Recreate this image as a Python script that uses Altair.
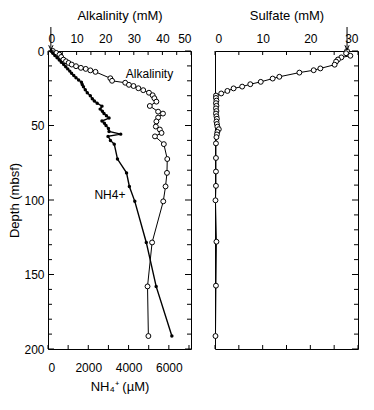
import altair as alt
import pandas as pd

# ---- data ----
alk_depth = [0, 1.3, 2.5, 4.0, 5.8, 6.9, 8.0, 9.1, 10.2, 11.3, 12.0, 13.0, 14.0, 18.3, 20.0,
             21.3, 22.7, 23.5, 25.0, 26.3, 28.0, 29.7, 31.7, 34.0, 36.9, 40.7, 42.0, 44.7,
             47.3, 50.7, 52.7, 55.0, 57.3, 62.5, 72.5, 81.8, 90.9, 100.9, 128.5, 158.0, 191.3]
alk_val = [1.7, 2.9, 4.0, 4.6, 5.4, 6.3, 7.2, 8.3, 9.8, 11.5, 13.2, 14.8, 16.6, 21.8, 22.4,
           27.0, 28.3, 29.9, 31.6, 33.3, 35.3, 36.6, 37.2, 37.9, 35.6, 38.5, 40.2, 38.5,
           37.9, 37.7, 39.1, 39.7, 37.4, 40.5, 41.7, 41.6, 41.1, 40.3, 36.4, 34.8, 35.1]

nh4_depth = [0, 1.5, 3, 4.5, 6, 7.5, 9, 10.5, 12, 13.5, 15, 16.5, 18, 19.5, 21, 22.5, 24, 26, 28,
             30, 32, 33.5, 35, 37, 39, 40.5, 42, 43.5, 45, 47, 48.5, 50, 52, 54, 55.8, 57.3, 60,
             62.5, 72.5, 81.8, 90.9, 100.9, 128.5, 158.0, 191.3]
nh4_val = [150, 240, 340, 450, 560, 660, 780, 880, 980, 1080, 1170, 1280, 1390, 1520, 1660, 1700,
           1760, 1850, 1950, 2100, 2200, 2300, 2440, 2680, 2590, 2700, 2780, 2900, 3030, 2680,
           2800, 2880, 3000, 3030, 3610, 2980, 3100, 3290, 3450, 3900, 4040, 4310, 4880, 5370, 6150]

so4_depth = [0, 1.5, 3.2, 4.3, 5.7, 7.1, 9.2, 11.7, 12.9, 14.5, 17.3, 18.5, 20.7, 22.3, 23.9,
             25.1, 26.8, 28.5, 29.9, 31.5, 33.3, 35.0, 36.8, 38.5, 40.3, 42.0, 43.8, 45.5, 47.3,
             49.0, 50.8, 52.5, 54.3, 56.0, 57.8, 62.0, 71.8, 80.9, 90.5, 100.2, 128.0, 157.5, 191.3]
so4_val = [27.7, 27.5, 28.4, 26.5, 25.8, 25.4, 25.1, 22.1, 20.7, 17.7, 13.5, 12.1, 9.6, 7.4, 5.7,
           3.9, 2.6, 1.3, 0.2, 0.2, 0.3, 0.2, 0.3, 0.2, 0.3, 0.2, 0.3, 0.4, 0.3, 0.4, 0.5, 0.8,
           0.5, 0.4, 0.3, 0.2, 0.2, 0.2, 0.2, 0.1, 0.3, 0.2, 0.1]

depth_major = [0, 50, 100, 150, 200]
depth_minor = [d for d in range(0, 201, 10) if d % 50 != 0]
alk_ticks = list(range(0, 51, 5))
nh4_ticks = list(range(0, 7001, 1000))
so4_ticks = list(range(0, 31, 5))
arrow_alk = [1.0]
arrow_so4 = [27.7]

FONT = "Liberation Sans"
W, H = 143, 298

alk_df = pd.DataFrame({"depth": alk_depth, "v": alk_val})
nh4_df = pd.DataFrame({"depth": nh4_depth, "v": nh4_val})
so4_df = pd.DataFrame({"depth": so4_depth, "v": so4_val})

depth_scale = alt.Scale(domain=[0, 200], reverse=True, nice=False, zero=False)
alk_scale = alt.Scale(domain=[0, 50], nice=False)
nh4_scale = alt.Scale(domain=[0, 7100], nice=False)
so4_scale = alt.Scale(domain=[0, 30], nice=False)

depth_axis = alt.Axis(title="Depth (mbsf)", values=[0, 50, 100, 150, 200], ticks=False,
                      domain=False, grid=False, labelPadding=4, titlePadding=2, format="d")
so4_axis = alt.Axis(orient="top", title="Sulfate (mM)", values=[0, 10, 20, 30], ticks=False,
                    domain=False, grid=False, labelPadding=6, titlePadding=10, format="d")

open_pt = alt.OverlayMarkDef(shape="circle", filled=True, fill="white", stroke="black",
                             strokeWidth=1, size=24)
solid_pt = alt.OverlayMarkDef(shape="circle", filled=True, color="black", size=12)


def inner_ticks(values, where, length, xscale=None, xaxis=None, yaxis=None):
    df = pd.DataFrame({"tk": values})
    if where in ("left", "right"):
        xpos = length / 2 if where == "left" else W - length / 2
        return alt.Chart(df).mark_tick(orient="horizontal", color="black", size=length,
                                       thickness=1, opacity=1).encode(
            y=alt.Y("tk:Q", scale=depth_scale, axis=yaxis), x=alt.value(xpos))
    ypos = length / 2 if where == "top" else H - length / 2
    return alt.Chart(df).mark_tick(orient="vertical", color="black", size=length,
                                   thickness=1, opacity=1).encode(
        x=alt.X("tk:Q", scale=xscale, axis=xaxis), y=alt.value(ypos))


def arrow(values, scale, xaxis=None):
    df = pd.DataFrame({"a": values})
    shaft = alt.Chart(df).mark_rule(color="black", strokeWidth=1).encode(
        x=alt.X("a:Q", scale=scale, axis=xaxis), y=alt.value(-24), y2=alt.value(-1))
    head = alt.Chart(df).mark_point(shape="M-0.45,-1L0,0L0.45,-1", filled=False,
                                    color="black", size=90, strokeWidth=1, opacity=1).encode(
        x=alt.X("a:Q", scale=scale, axis=xaxis), y=alt.value(-1))
    return [shaft, head]


# ---- left panel ----
alk_line = alt.Chart(alk_df).mark_line(color="black", strokeWidth=1, point=open_pt).encode(
    x=alt.X("v:Q", scale=alk_scale,
            axis=alt.Axis(orient="top", title="Alkalinity (mM)", values=[0, 10, 20, 30, 40, 50],
                          ticks=False, domain=False, grid=False, labelPadding=6, titlePadding=10,
                          format="d")),
    y=alt.Y("depth:Q", scale=depth_scale, axis=depth_axis),
    order=alt.Order("depth:Q"))

nh4_line = alt.Chart(nh4_df).mark_line(color="black", strokeWidth=1.4, point=solid_pt).encode(
    x=alt.X("v:Q", scale=nh4_scale,
            axis=alt.Axis(orient="bottom", title="NH₄⁺ (µM)", values=[0, 2000, 4000, 6000],
                          ticks=False, domain=False, grid=False, labelPadding=13, titlePadding=7,
                          format="d")),
    y=alt.Y("depth:Q", scale=depth_scale, axis=depth_axis),
    order=alt.Order("depth:Q"))

alk_text = alt.Chart(pd.DataFrame({"x": [35.5], "d": [15.3], "s": ["Alkalinity"]})).mark_text(
    fontSize=12, font=FONT, color="black").encode(
    x=alt.X("x:Q", scale=alk_scale, axis=None),
    y=alt.Y("d:Q", scale=depth_scale, axis=depth_axis),
    text="s:N")
nh4_text = alt.Chart(pd.DataFrame({"x": [3075], "d": [96.7], "s": ["NH4+"]})).mark_text(
    fontSize=12, font=FONT, color="black").encode(
    x=alt.X("x:Q", scale=nh4_scale, axis=None),
    y=alt.Y("d:Q", scale=depth_scale, axis=depth_axis),
    text="s:N")

left = alt.layer(
    alk_line, nh4_line, alk_text, nh4_text,
    inner_ticks(depth_major, "left", 6, yaxis=depth_axis),
    inner_ticks(depth_minor, "left", 4, yaxis=depth_axis),
    inner_ticks(depth_major, "right", 6, yaxis=depth_axis),
    inner_ticks(depth_minor, "right", 4, yaxis=depth_axis),
    inner_ticks(alk_ticks, "top", 4, xscale=alk_scale),
    inner_ticks(nh4_ticks, "bottom", 4, xscale=nh4_scale),
    *arrow(arrow_alk, alk_scale),
).resolve_scale(x="independent").properties(width=W, height=H)

# ---- right panel ----
so4_line = alt.Chart(so4_df).mark_line(color="black", strokeWidth=1, point=open_pt).encode(
    x=alt.X("v:Q", scale=so4_scale, axis=so4_axis),
    y=alt.Y("depth:Q", scale=depth_scale, axis=None),
    order=alt.Order("depth:Q"))

right = alt.layer(
    so4_line,
    inner_ticks(depth_major, "right", 6, yaxis=None),
    inner_ticks(depth_minor, "right", 4, yaxis=None),
    inner_ticks(so4_ticks, "top", 4, xscale=so4_scale, xaxis=so4_axis),
    inner_ticks(so4_ticks, "bottom", 4, xscale=so4_scale, xaxis=so4_axis),
    *arrow(arrow_so4, so4_scale, xaxis=so4_axis),
).properties(width=W, height=H)

chart = alt.hconcat(left, right, spacing=24, bounds="flush").properties(
    padding={"left": 0, "top": 0, "right": 0, "bottom": 0}
).configure(font=FONT).configure_view(stroke="black", strokeWidth=1).configure_axis(
    labelFont=FONT, titleFont=FONT, labelFontSize=12, titleFontSize=13,
    titleFontWeight="normal", labelColor="black", titleColor="black")

chart.save("out.html", embed_options={"renderer": "svg", "actions": False})
